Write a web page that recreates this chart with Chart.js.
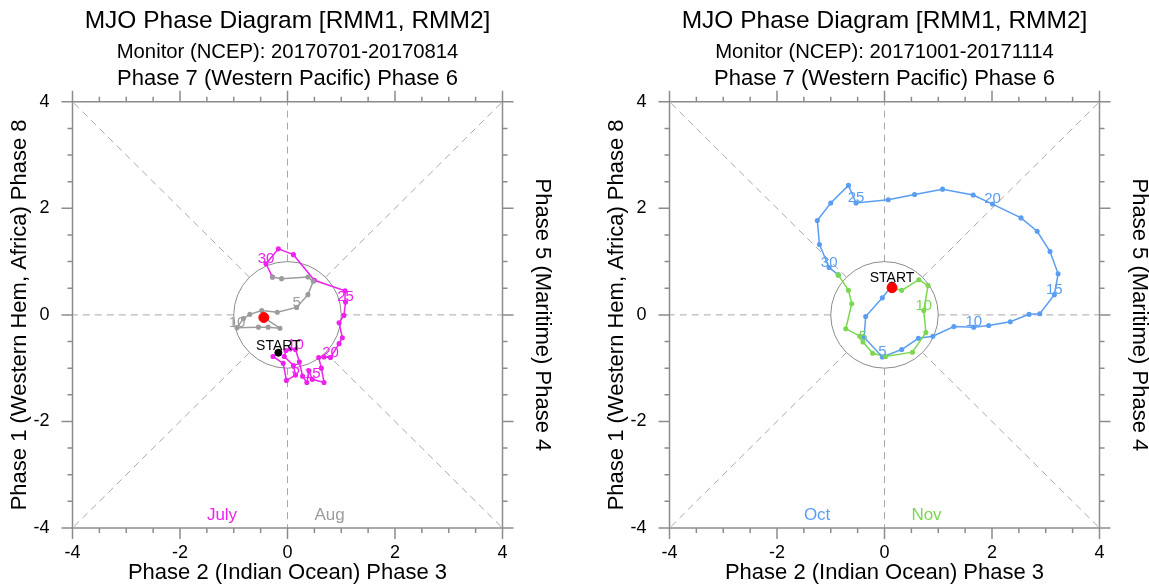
<!DOCTYPE html>
<html>
<head>
<meta charset="utf-8">
<script src="https://cdn.jsdelivr.net/npm/chart.js@4.4.1/dist/chart.umd.min.js"></script>
<style>
  html, body { margin: 0; padding: 0; background: #fff; overflow: hidden; }
  #wrap { position: relative; width: 1149px; height: 585px; overflow: hidden; }
  .panel { position: absolute; top: 0; width: 575px; height: 585px; }
</style>
</head>
<body>
<div id="wrap">
  <div class="panel" style="left:0"><canvas id="mjoLeft" width="575" height="585"></canvas></div>
  <div class="panel" style="left:597px"><canvas id="mjoRight" width="575" height="585"></canvas></div>
</div>
<script>
// axis range / labelled ticks
const axisMin = -4;
const axisMax = 4;
const tickStep = 2;
const minorStep = 0.5;

// July 2017 (RMM1, RMM2), day 1..31
const julyRmm1 = [-0.17, -0.27, -0.08, -0.02, 0.15, 0.11, -0.06, -0.03, 0.05, 0.15,
                  0.22, 0.28, 0.36, 0.40, 0.46, 0.68, 0.63, 0.58, 0.68, 0.80,
                  0.96, 1.02, 0.96, 1.05, 1.08, 1.07, 0.50, 0.11, -0.17, -0.40, -0.28];
const julyRmm2 = [-0.71, -0.78, -0.91, -1.23, -1.13, -0.95, -0.78, -0.67, -0.64, -0.65,
                  -0.88, -1.15, -1.27, -1.05, -1.21, -1.27, -1.00, -0.80, -0.79, -0.80,
                  -0.54, -0.43, -0.15, -0.01, 0.24, 0.45, 0.65, 1.13, 1.24, 0.96, 0.71];
// August 2017, day 1..14
const augRmm1 = [-0.11, 0.38, 0.48, 0.38, 0.17, -0.19, -0.48, -0.70, -0.82, -0.94, -0.54, -0.36, -0.14, -0.44];
const augRmm2 = [0.68, 0.71, 0.63, 0.38, 0.14, 0.05, 0.08, 0.01, -0.07, -0.24, -0.23, -0.23, -0.25, -0.05];

// October 2017, day 1..31
const octRmm1 = [0.14, -0.04, -0.35, -0.38, -0.04, 0.32, 0.63, 0.90, 1.29, 1.66,
                 1.94, 2.34, 2.69, 2.89, 3.16, 3.23, 3.08, 2.84, 2.54, 2.01,
                 1.65, 1.08, 0.56, 0.07, -0.53, -0.67, -1.00, -1.25, -1.21, -1.03, -0.86];
const octRmm2 = [0.55, 0.32, -0.03, -0.42, -0.79, -0.65, -0.44, -0.40, -0.22, -0.23,
                 -0.20, -0.13, 0.01, 0.02, 0.38, 0.77, 1.19, 1.57, 1.82, 2.08,
                 2.25, 2.36, 2.26, 2.16, 2.10, 2.43, 2.10, 1.77, 1.32, 0.89, 0.75];
// November 2017, day 1..14
const novRmm1 = [-0.67, -0.61, -0.72, -0.46, -0.40, -0.22, 0.02, 0.52, 0.77, 0.73, 0.81, 0.64, 0.32, 0.14];
const novRmm2 = [0.46, 0.21, -0.26, -0.40, -0.51, -0.72, -0.78, -0.70, -0.33, 0.08, 0.55, 0.66, 0.46, 0.51];

const FONT = "'Liberation Sans', Arial, Helvetica, sans-serif";
Chart.defaults.font.family = FONT;
Chart.defaults.color = '#000';

function pts(xs, ys) {
    return xs.map((x, i) => ({ x: x, y: ys[i] }));
}

// circle, spokes, frame and tick marks
const phaseFrame = {
    id: 'phaseFrame',
    beforeDatasetsDraw(chart) {
        const { ctx, chartArea, scales } = chart;
        const xs = scales.x, ys = scales.y;
        ctx.save();
        // dashed spokes from the unit circle to the frame
        ctx.strokeStyle = '#a8a8a8';
        ctx.lineWidth = 1;
        ctx.setLineDash([7, 5]);
        for (let k = 0; k < 8; k++) {
            const a = k * Math.PI / 4;
            const dx = Math.round(Math.cos(a) * 1e6) / 1e6, dy = Math.round(Math.sin(a) * 1e6) / 1e6;
            const t = axisMax / Math.max(Math.abs(dx), Math.abs(dy));
            ctx.beginPath();
            ctx.moveTo(xs.getPixelForValue(dx), ys.getPixelForValue(dy));
            ctx.lineTo(xs.getPixelForValue(dx * t), ys.getPixelForValue(dy * t));
            ctx.stroke();
        }
        ctx.setLineDash([]);
        // unit circle
        ctx.strokeStyle = '#8c8c8c';
        ctx.beginPath();
        ctx.ellipse(xs.getPixelForValue(0), ys.getPixelForValue(0),
            xs.getPixelForValue(1) - xs.getPixelForValue(0),
            ys.getPixelForValue(0) - ys.getPixelForValue(1), 0, 0, Math.PI * 2);
        ctx.stroke();
        // frame
        ctx.strokeStyle = '#8c8c8c';
        ctx.lineWidth = 1.5;
        ctx.strokeRect(chartArea.left, chartArea.top, chartArea.width, chartArea.height);
        // ticks, outward
        for (let v = axisMin; v <= axisMax + 1e-9; v += minorStep) {
            const len = (Math.abs(v % tickStep) < 1e-9) ? 11 : 5;
            const px = xs.getPixelForValue(v), py = ys.getPixelForValue(v);
            ctx.beginPath();
            ctx.moveTo(px, chartArea.bottom); ctx.lineTo(px, chartArea.bottom + len);
            ctx.moveTo(px, chartArea.top); ctx.lineTo(px, chartArea.top - len);
            ctx.moveTo(chartArea.left, py); ctx.lineTo(chartArea.left - len, py);
            ctx.moveTo(chartArea.right, py); ctx.lineTo(chartArea.right + len, py);
            ctx.stroke();
        }
        ctx.restore();
    }
};

// day numbers every 5 days, START text, month names
const phaseText = {
    id: 'phaseText',
    afterDatasetsDraw(chart, args, opts) {
        const { ctx, scales } = chart;
        ctx.save();
        ctx.textAlign = 'center';
        ctx.textBaseline = 'middle';
        ctx.font = '15px ' + FONT;
        chart.data.datasets.forEach((ds, di) => {
            if (ds.dayOffset === undefined) return;
            const meta = chart.getDatasetMeta(di);
            ctx.fillStyle = ds.borderColor;
            meta.data.forEach((el, i) => {
                const day = i + ds.dayOffset;
                if (day > 0 && day % 5 === 0) ctx.fillText(String(day), el.x, el.y - 5);
            });
        });
        const s = chart.getDatasetMeta(1).data[0];
        ctx.fillStyle = '#000';
        ctx.font = '14px ' + FONT;
        ctx.fillText('START', s.x, s.y - 7);
        // month names
        ctx.textAlign = 'left';
        ctx.font = '17px ' + FONT;
        opts.months.forEach(m => {
            ctx.fillStyle = m.color;
            ctx.fillText(m.text, scales.x.getPixelForValue(m.x), scales.y.getPixelForValue(m.y));
        });
        ctx.restore();
    }
};

function makeChart(id, subtitle, m1, m2) {
    const first = pts(m1.xs, m1.ys);
    const second = [first[first.length - 1]].concat(pts(m2.xs, m2.ys));
    const last = second[second.length - 1];
    const axisTitle = (text, pad) => ({
        display: true, text: text, color: '#000',
        font: { size: 22, family: FONT, lineHeight: 1.1 }, padding: pad
    });
    return new Chart(document.getElementById(id), {
        type: 'scatter',
        data: {
            datasets: [
                { data: [last], pointRadius: 5, pointBackgroundColor: '#ff0000', pointBorderColor: '#ff0000', showLine: false },
                { data: [first[0]], pointRadius: 3.5, pointBackgroundColor: '#000', pointBorderColor: '#000', showLine: false },
                { data: second, showLine: true, borderColor: m2.color, backgroundColor: m2.color,
                  borderWidth: 1.5, pointRadius: 1.8, dayOffset: 0 },
                { data: first, showLine: true, borderColor: m1.color, backgroundColor: m1.color,
                  borderWidth: 1.5, pointRadius: 1.8, dayOffset: 1 }
            ]
        },
        options: {
            responsive: false,
            animation: false,
            layout: { padding: 0 },
            scales: {
                x: {
                    type: 'linear', position: 'bottom', min: axisMin, max: axisMax,
                    ticks: { stepSize: tickStep, padding: 6, font: { size: 18 }, color: '#000', maxRotation: 0 },
                    grid: { display: false }, border: { display: false },
                    title: axisTitle('Phase 2 (Indian Ocean) Phase 3', { top: 0, bottom: 0 }),
                    afterFit: s => { s.height = 57; }
                },
                x2: {
                    type: 'linear', position: 'top', min: axisMin, max: axisMax,
                    ticks: { display: false }, grid: { display: false }, border: { display: false },
                    title: axisTitle('Phase 7 (Western Pacific) Phase 6', { top: 2, bottom: 0 }),
                    afterFit: s => { s.height = 37; }
                },
                y: {
                    type: 'linear', position: 'left', min: axisMin, max: axisMax,
                    ticks: { stepSize: tickStep, padding: 15, font: { size: 18 }, color: '#000' },
                    grid: { display: false }, border: { display: false },
                    title: axisTitle('Phase 1 (Western Hem, Africa) Phase 8', { top: 8, bottom: 0 }),
                    afterFit: s => { s.width = 72.5; }
                },
                y2: {
                    type: 'linear', position: 'right', min: axisMin, max: axisMax,
                    ticks: { display: false }, grid: { display: false }, border: { display: false },
                    title: axisTitle('Phase 5 (Maritime) Phase 4', { top: 21, bottom: 0 }),
                    afterFit: s => { s.width = 72.5; }
                }
            },
            plugins: {
                legend: { display: false },
                tooltip: { enabled: false },
                title: {
                    display: true, text: 'MJO Phase Diagram [RMM1, RMM2]', color: '#000',
                    font: { size: 24.5, weight: 'normal' }, padding: { top: 7, bottom: 0 }
                },
                subtitle: {
                    display: true, text: subtitle, color: '#000',
                    font: { size: 20.3 }, padding: { top: 4, bottom: 0 }
                },
                phaseText: {
                    months: [
                        { text: m1.name, color: m1.color, x: -1.5, y: -3.77 },
                        { text: m2.name, color: m2.color, x: 0.5, y: -3.77 }
                    ]
                }
            }
        },
        plugins: [phaseFrame, phaseText]
    });
}

makeChart('mjoLeft', 'Monitor (NCEP): 20170701-20170814',
    { xs: julyRmm1, ys: julyRmm2, color: '#ee22ee', name: 'July' },
    { xs: augRmm1, ys: augRmm2, color: '#9c9c9c', name: 'Aug' });

makeChart('mjoRight', 'Monitor (NCEP): 20171001-20171114',
    { xs: octRmm1, ys: octRmm2, color: '#5a9ef2', name: 'Oct' },
    { xs: novRmm1, ys: novRmm2, color: '#7ad84f', name: 'Nov' });
</script>
</body>
</html>
